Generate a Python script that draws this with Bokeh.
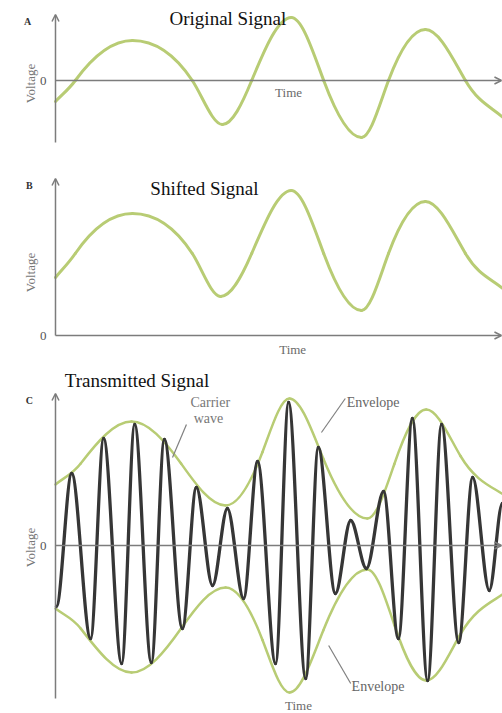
import numpy as np
from bokeh.plotting import figure
from bokeh.layouts import column
from bokeh.models import Range1d, Label, Arrow, OpenHead, ColumnDataSource
from bokeh.embed import file_html
from bokeh.resources import INLINE

# ---------------- data (time units, voltage units) ----------------
# A: original signal, key points (extrema and zero crossings)
A_T = [0.00, 0.44, 1.71, 3.04, 3.71, 4.36, 5.24, 5.96, 6.80, 7.40, 8.22, 9.11, 10.02]
A_V = [-0.42, 0.00, 0.80, 0.00, -0.88, 0.00, 1.26, 0.00, -1.14, 0.00, 1.02, 0.00, -0.80]
# B: shifted signal (extrema and mid-level crossings)
B_T = [0.00, 0.44, 1.71, 3.04, 3.67, 4.36, 5.24, 5.96, 6.80, 7.40, 8.22, 9.11, 10.02]
B_V = [1.16, 1.64, 2.44, 1.64, 0.78, 1.64, 2.90, 1.64, 0.50, 1.64, 2.68, 1.64, 0.88]
# C: envelope (upper and lower), extrema and mid-level crossings
ENV_T = [0.00, 0.56, 1.69, 2.79, 3.78, 4.60, 5.20, 5.95, 6.93, 7.53, 8.24, 9.00, 10.20]
ENV_UP = [1.22, 1.64, 2.48, 1.64, 0.80, 1.87, 2.94, 1.74, 0.54, 1.63, 2.72, 1.79, 0.86]
ENV_LO = [-1.26, -1.66, -2.54, -1.66, -0.84, -1.89, -2.94, -1.70, -0.48, -1.59, -2.70, -1.77, -0.80]
# C: carrier wave extrema
CAR_T = [0.02, 0.36, 0.78, 1.07, 1.47, 1.76, 2.13, 2.42, 2.82, 3.13, 3.49, 3.82, 4.18, 4.49, 4.89,
         5.18, 5.56, 5.84, 6.22, 6.56, 6.91, 7.29, 7.62, 7.93, 8.27, 8.58, 8.96, 9.27, 9.64, 9.93, 10.29]
CAR_V = [-1.22, 1.44, -1.86, 2.14, -2.36, 2.42, -2.34, 2.12, -1.66, 1.16, -0.80, 0.74, -1.06, 1.68, -2.36,
         2.86, -2.66, 1.96, -0.96, 0.50, -0.46, 1.08, -1.86, 2.54, -2.70, 2.42, -1.94, 1.36, -0.90, 0.84, -1.00]

TITLES = ["Original Signal", "Shifted Signal", "Transmitted Signal"]
LETTERS = ["A", "B", "C"]
ZERO_TICK = "0"

GREEN = "#b8cc74"
DARK = "#363636"
AXIS = "#7c7c7c"
TXT = "#6a6a6a"
SERIF = "Liberation Serif"


def hermite_segments(t, v, k=1.0, flat_ends=False):
    t = np.asarray(t, float)
    v = np.asarray(v, float)
    h = np.diff(t)
    d = np.diff(v) / h
    n = len(t)
    m = np.zeros(n)
    for i in range(1, n - 1):
        if d[i - 1] * d[i] > 0:
            w1 = 2 * h[i] + h[i - 1]
            w2 = h[i] + 2 * h[i - 1]
            m[i] = k * (w1 + w2) / (w1 / d[i - 1] + w2 / d[i])
    if not flat_ends:
        m[0] = d[0]
        m[-1] = d[-1]
    return ColumnDataSource(dict(
        x0=t[:-1], y0=v[:-1], x1=t[1:], y1=v[1:],
        cx0=t[:-1] + h / 3, cy0=v[:-1] + m[:-1] * h / 3,
        cx1=t[1:] - h / 3, cy1=v[1:] - m[1:] * h / 3))


def curve(p, t, v, color, width, k=1.0, flat_ends=False):
    src = hermite_segments(t, v, k, flat_ends)
    p.bezier(x0="x0", y0="y0", x1="x1", y1="y1", cx0="cx0", cy0="cy0",
             cx1="cx1", cy1="cy1", source=src, line_color=color,
             line_width=width, line_cap="round")


def label(p, x, y, text, size, color=TXT, align="center", style="normal", angle=0.0):
    p.add_layout(Label(x=x, y=y, text=text, text_font=SERIF, text_font_size=size,
                       text_color=color, text_align=align, text_baseline="middle",
                       text_font_style=style, angle=angle))


def arrow(p, x0, y0, x1, y1):
    p.add_layout(Arrow(end=OpenHead(size=7, line_color=AXIS, line_width=1.5),
                       x_start=x0, y_start=y0, x_end=x1, y_end=y1,
                       line_color=AXIS, line_width=1.5))


def panel(height, ylo, yhi):
    p = figure(width=502, height=height, output_backend="svg", toolbar_location=None,
               x_range=Range1d(-1.2222, 9.9333), y_range=Range1d(ylo, yhi),
               x_axis_location=None, y_axis_location=None, min_border=0)
    p.outline_line_color = None
    p.grid.visible = False
    p.background_fill_color = "white"
    p.border_fill_color = "white"
    return p


def axis_texts(p, v_zero, v_volt):
    label(p, -0.27, v_zero, ZERO_TICK, "13px", "#555555")
    label(p, -0.56, v_volt, "Voltage", "13px", "#777777", angle=np.pi / 2)


HALFWAVE = np.pi / 2

# ---------------- panel A ----------------
pa = panel(165, -1.70, 1.60)
arrow(pa, 0, -1.24, 0, 1.32)
arrow(pa, 0, 0, 9.91, 0)
curve(pa, A_T, A_V, GREEN, 3, k=HALFWAVE)
axis_texts(pa, 0, -0.06)
label(pa, 3.83, 1.24, TITLES[0], "19px", "#111111")
label(pa, -0.62, 1.18, LETTERS[0], "10px", "#333333", style="bold")
label(pa, 5.18, -0.24, "Time", "13px")

# ---------------- panel B ----------------
pb = panel(195, -0.50, 3.40)
arrow(pb, 0, 0, 0, 3.14)
arrow(pb, 0, 0, 9.91, 0)
curve(pb, B_T, B_V, GREEN, 3, k=HALFWAVE)
axis_texts(pb, 0, 1.26)
label(pb, 3.31, 2.94, TITLES[1], "19px", "#111111")
label(pb, -0.58, 3.0, LETTERS[1], "10px", "#333333", style="bold")
label(pb, 5.27, -0.28, "Time", "13px")

# ---------------- panel C ----------------
pc = panel(353, -3.36, 3.70)
arrow(pc, 0, -3.06, 0, 3.04)
arrow(pc, 0, 0, 9.91, 0)
curve(pc, ENV_T, ENV_UP, GREEN, 2.5, k=HALFWAVE)
curve(pc, ENV_T, ENV_LO, GREEN, 2.5, k=HALFWAVE)
curve(pc, CAR_T, CAR_V, DARK, 3.3, flat_ends=True)
axis_texts(pc, 0, -0.04)
label(pc, 1.81, 3.30, TITLES[2], "19px", "#111111")
label(pc, -0.58, 2.90, LETTERS[2], "10px", "#333333", style="bold")
label(pc, 5.40, -3.20, "Time", "13px")
label(pc, 3.44, 2.86, "Carrier", "14px", "#777777")
label(pc, 3.40, 2.54, "wave", "14px", "#777777")
label(pc, 6.47, 2.86, "Envelope", "14px", "#666666", align="left")
label(pc, 6.58, -2.82, "Envelope", "14px", "#666666", align="left")
pc.segment(x0=[2.91, 6.44, 6.07], y0=[2.42, 2.94, -2.00],
           x1=[2.60, 5.91, 6.56], y1=[1.76, 2.26, -2.76],
           line_color="#808080", line_width=1.2)

layout = column(pa, pb, pc, spacing=0)
open("out.html", "w").write(file_html(layout, INLINE))
